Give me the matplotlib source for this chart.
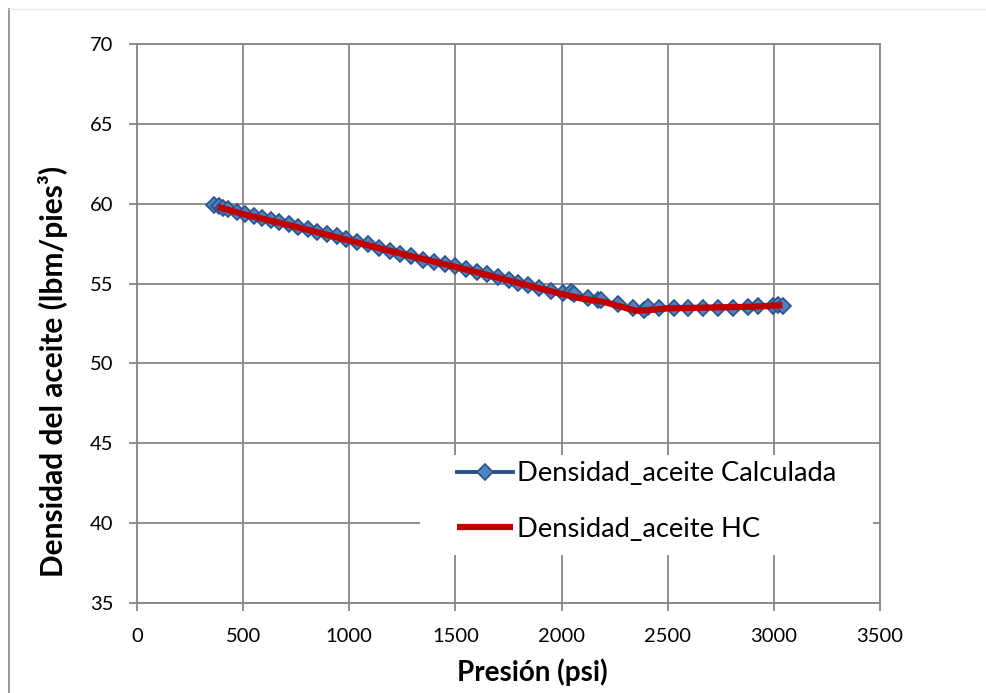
"""Densidad del aceite vs presion: calculada vs HC."""
import matplotlib.pyplot as plt
from matplotlib.lines import Line2D
from matplotlib.patches import Rectangle

# Densidad_aceite Calculada
p_calc = [365, 385, 405, 430, 470, 510, 550, 590, 630, 670, 715, 760,
          805, 850, 895, 940, 985, 1038, 1090, 1140, 1190, 1240, 1290,
          1345, 1400, 1450, 1500, 1550, 1600, 1650, 1700, 1750, 1797,
          1844, 1892, 1948, 2005, 2045, 2060, 2123, 2170, 2184, 2264,
          2335, 2387, 2406, 2458, 2528, 2594, 2665, 2736, 2807, 2877,
          2925, 2995, 3019, 3042]
rho_calc = [59.95, 59.85, 59.75, 59.65, 59.5, 59.35, 59.2, 59.1, 58.95,
            58.85, 58.7, 58.55, 58.4, 58.25, 58.1, 57.95, 57.8, 57.62,
            57.45, 57.25, 57.05, 56.85, 56.7, 56.5, 56.35, 56.2, 56.1,
            55.9, 55.75, 55.6, 55.4, 55.2, 55.05, 54.9, 54.75, 54.55,
            54.4, 54.45, 54.35, 54.1, 54.0, 53.95, 53.7, 53.45, 53.35,
            53.55, 53.5, 53.5, 53.5, 53.5, 53.5, 53.5, 53.55, 53.6,
            53.6, 53.65, 53.6]

# Densidad_aceite HC
p_hc = [380, 500, 750, 1000, 1250, 1500, 1750, 2000, 2100, 2200,
        2280, 2350, 2420, 2500, 2700, 2900, 3040]
rho_hc = [59.8, 59.35, 58.55, 57.7, 56.85, 56.05, 55.2, 54.35, 54.05,
          53.85, 53.55, 53.3, 53.35, 53.45, 53.5, 53.55, 53.65]

x_ticks = [0, 500, 1000, 1500, 2000, 2500, 3000, 3500]
y_ticks = [35, 40, 45, 50, 55, 60, 65, 70]

plt.rcParams["font.family"] = ["Lato", "DejaVu Sans"]

fig = plt.figure(figsize=(9.86, 6.93), dpi=100)
ax = fig.add_axes([137 / 986, 1 - 603 / 693, 743 / 986, 559 / 693])

ax.plot(p_calc, rho_calc, color="#2B5189", lw=2.8, marker="D",
        markersize=8.5, markerfacecolor="#4F81BD",
        markeredgecolor="#2B5189", markeredgewidth=1.2,
        label="Densidad_aceite Calculada", zorder=3)
ax.plot(p_hc, rho_hc, color="#C00000", lw=4.5, solid_capstyle="butt",
        label="Densidad_aceite HC", zorder=4)

ax.set_xlim(0, 3500)
ax.set_ylim(35, 70)
ax.set_xticks(x_ticks)
ax.set_yticks(y_ticks)
ax.grid(True, color="#868686", lw=1.3)
ax.set_axisbelow(True)
for s in ax.spines.values():
    s.set_color("#868686")
    s.set_linewidth(1.3)
ax.tick_params(direction="out", length=6, width=1.3, color="#868686",
               labelsize=14.5)
ax.tick_params(axis="x", pad=12)
ax.tick_params(axis="y", pad=11)

ax.set_xlabel("Presión (psi)", fontsize=20, fontweight="bold")
ax.set_ylabel("Densidad del aceite (lbm/pies³)", fontsize=21.5,
              fontweight="bold")
ax.xaxis.set_label_coords(0.532, -0.1)
ax.yaxis.set_label_coords(-0.093, 0.415)

# white legend area covering the grid
ax.add_patch(Rectangle((0.381, 0.086), 0.61, 0.179, transform=ax.transAxes,
                       facecolor="white", edgecolor="none", zorder=2.5))
leg = ax.legend(loc="center left", bbox_to_anchor=(0.431, 0.1816),
                fontsize=19.7, frameon=False, handlelength=2.05,
                handletextpad=0.15, labelspacing=1.1, borderpad=0,
                borderaxespad=0)

# chart border
fig.add_artist(Line2D([9 / 986, 9 / 986], [0, 1 - 9 / 693],
                      color="#8C8C8C", lw=1.3))
fig.add_artist(Line2D([9 / 986, 1], [1 - 9 / 693, 1 - 9 / 693],
                      color="#E6E6E6", lw=1))

plt.savefig("out.png", dpi=100)
plt.close(fig)
